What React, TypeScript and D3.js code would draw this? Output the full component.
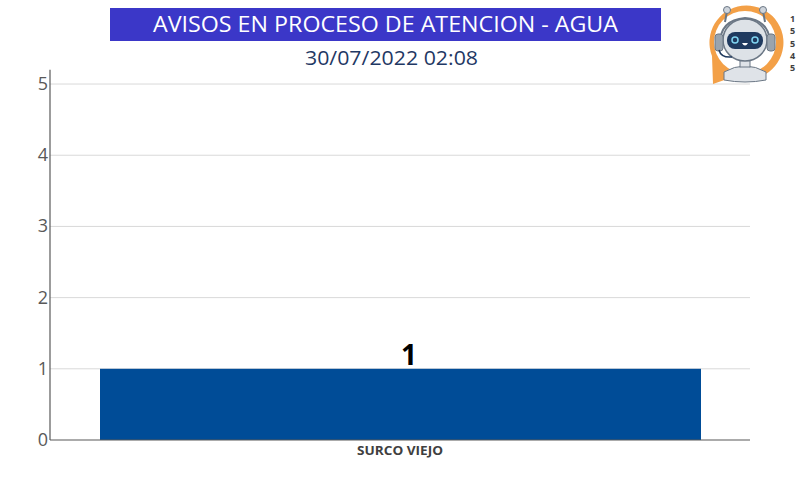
import React from "react";
import * as d3 from "d3";

const categories = ["SURCO VIEJO"];
const values = [1];
const yTicks = [0, 1, 2, 3, 4, 5];
const title = "AVISOS EN PROCESO DE ATENCION - AGUA";
const subtitle = "30/07/2022 02:08";
const sideNumbers = ["1", "5", "5", "4", "5"];

const W = 800, H = 500;
const M = { left: 50, right: 750, top: 69.8, bottom: 440 };

export default function App() {
  const x = d3.scaleBand<string>().domain(categories).range([M.left, M.right]).paddingInner(0).paddingOuter(1 / 12);
  const y = d3.scaleLinear().domain([0, 5.2]).range([M.bottom, M.top]);
  const font = "'Open Sans', 'Liberation Sans', sans-serif";
  return (
    <svg width={W} height={H} style={{ position: "absolute", left: 0, top: 0, background: "#fff" }} fontFamily={font}>
      {/* title */}
      <rect x={110} y={8} width={551} height={33} fill="#3b37c8" />
      <text x={385.5} y={32} textAnchor="middle" fill="#fff" fontSize={22} textLength={465} lengthAdjust="spacingAndGlyphs">{title}</text>
      <text x={391.5} y={65} textAnchor="middle" fill="#1f3864" fontSize={20} textLength={173} lengthAdjust="spacingAndGlyphs">{subtitle}</text>

      {/* grid */}
      {yTicks.filter(t => t > 0).map(t => (
        <line key={t} x1={M.left} x2={M.right} y1={y(t)} y2={y(t)} stroke="#d9d9d9" strokeWidth={1} />
      ))}
      {/* bars */}
      {categories.map((c, i) => (
        <g key={c}>
          <rect x={x(c)} y={y(values[i])} width={x.bandwidth() + 1} height={y(0) - y(values[i])} fill="#004c97" />
          <text x={(x(c) as number) + x.bandwidth() / 2 + 9} y={y(values[i]) - 4} textAnchor="middle" fontSize={28} fontWeight="bold" fill="#000">{values[i]}</text>
          <text x={(x(c) as number) + x.bandwidth() / 2} y={455} textAnchor="middle" fontSize={12.5} fontWeight="bold" fill="#404040" textLength={86} lengthAdjust="spacingAndGlyphs">{c}</text>
        </g>
      ))}
      {/* axes */}
      <line x1={M.left} x2={M.left} y1={M.top} y2={M.bottom} stroke="#595959" strokeWidth={1.2} />
      <line x1={M.left} x2={M.right} y1={M.bottom} y2={M.bottom} stroke="#595959" strokeWidth={1.2} />
      {yTicks.map(t => (
        <text key={t} x={48} y={y(t) + 6} textAnchor="end" fontSize={18} fill="#595959">{t}</text>
      ))}

      {/* robot icon */}
      <g>
        <path d="M 712 56 A 37 37 0 1 1 733 77 L 713 84 Z" fill="#f3a047" />
        <circle cx={745} cy={42} r={31} fill="#ffffff" />
        <line x1={725} y1={22} x2={727} y2={11} stroke="#6b7785" strokeWidth={2} />
        <line x1={765} y1={22} x2={763} y2={11} stroke="#6b7785" strokeWidth={2} />
        <circle cx={727} cy={10} r={3.5} fill="#cfd5dc" stroke="#6b7785" />
        <circle cx={763} cy={10} r={3.5} fill="#cfd5dc" stroke="#6b7785" />
        <path d="M 724 72 Q 745 60 766 72 L 766 80 Q 745 84 724 80 Z" fill="#dfe3e8" stroke="#6b7785" strokeWidth={1} />
        <rect x={740} y={60} width={10} height={7} fill="#dfe3e8" stroke="#6b7785" strokeWidth={1} />
        <ellipse cx={745} cy={40} rx={22} ry={21} fill="#dde2e7" stroke="#6b7785" strokeWidth={1.5} />
        <path d="M 720 44 Q 720 20 745 18 Q 770 20 770 44" fill="none" stroke="#6b7785" strokeWidth={2} />
        <rect x={715} y={34} width={8} height={17} rx={3} fill="#9aa4ae" stroke="#6b7785" />
        <rect x={767} y={34} width={8} height={17} rx={3} fill="#9aa4ae" stroke="#6b7785" />
        <rect x={727} y={32} width={36} height={17} rx={8} fill="#1f3a5f" />
        <circle cx={735} cy={40} r={3} fill="none" stroke="#7fd3f0" strokeWidth={1.5} />
        <circle cx={755} cy={40} r={3} fill="none" stroke="#7fd3f0" strokeWidth={1.5} />
        <path d="M 742 43 Q 745 48 748 43 Z" fill="#fff" />
        <path d="M 719 50 Q 721 58 732 57" fill="none" stroke="#1f3a5f" strokeWidth={1.5} />
      </g>
      {sideNumbers.map((n, i) => (
        <text key={i} x={790} y={22 + i * 12.3} fontSize={9} fontWeight="bold" fill="#404040">{n}</text>
      ))}
    </svg>
  );
}
